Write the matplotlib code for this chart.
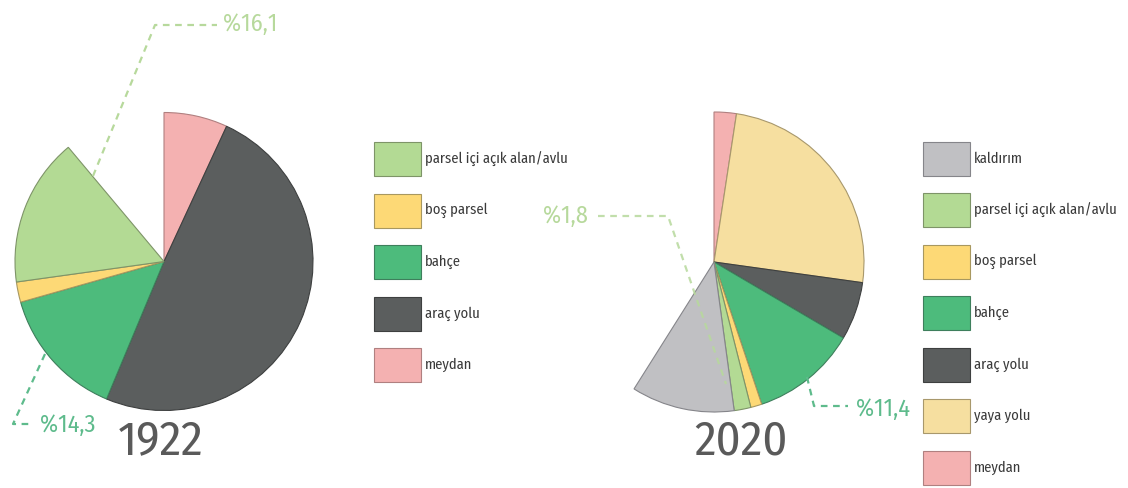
import matplotlib.pyplot as plt
from matplotlib.patches import Rectangle

plt.rcParams['font.family'] = ['Fira Sans Condensed', 'DejaVu Sans']

# data: fractions of the whole, clockwise from the top (rest of the circle left empty)
labels_1922 = ['meydan', 'araç yolu', 'bahçe', 'boş parsel', 'parsel içi açık alan/avlu']
values_1922 = [0.069, 0.494, 0.143, 0.022, 0.161]

labels_2020 = ['meydan', 'yaya yolu', 'araç yolu', 'bahçe', 'boş parsel',
               'parsel içi açık alan/avlu', 'kaldırım']
values_2020 = [0.024, 0.248, 0.0625, 0.114, 0.012, 0.018, 0.111]

colors = {
    'meydan': '#F4B1B1',
    'araç yolu': '#5B5E5E',
    'bahçe': '#4DBB7C',
    'boş parsel': '#FDD976',
    'parsel içi açık alan/avlu': '#B3DA94',
    'kaldırım': '#C0C0C3',
    'yaya yolu': '#F6DFA0',
}
edges = {
    'meydan': '#B08080',
    'araç yolu': '#3E4040',
    'bahçe': '#3E7F5C',
    'boş parsel': '#A89860',
    'parsel içi açık alan/avlu': '#7E9468',
    'kaldırım': '#85858A',
    'yaya yolu': '#A8986C',
}

W, H = 1128, 489
fig = plt.figure(figsize=(W / 100, H / 100), dpi=100)
ax = fig.add_axes([0, 0, 1, 1])


def py(y):
    # pixel row -> data y (data y grows upwards)
    return H - y


def draw_pie(labels, values, cx, cy, r):
    wedges, _ = ax.pie(values, labels=None, startangle=90, counterclock=False,
                       normalize=False, center=(cx, py(cy)), radius=r, frame=True,
                       colors=[colors[l] for l in labels],
                       wedgeprops=dict(linewidth=0.8))
    for w, l in zip(wedges, labels):
        w.set_edgecolor(edges[l])


def draw_legend(labels, x, y0, step):
    for i, l in enumerate(labels):
        yc = y0 + i * step
        ax.add_patch(Rectangle((x, py(yc) - 17), 47, 34, facecolor=colors[l],
                               edgecolor=edges[l], linewidth=0.8))
        ax.text(x + 51, py(yc) + 1, l, fontsize=10.5, color='#3A3A3A',
                ha='left', va='center')


draw_pie(labels_1922, values_1922, 164, 262.5, 149)
draw_pie(labels_2020, values_2020, 714, 263, 150)

# legends listed in reverse drawing order
draw_legend(labels_1922[::-1], 374, 160, 51.5)
draw_legend(labels_2020[::-1], 923, 159.5, 51.5)

# year titles
ax.text(161, py(441), '1922', fontsize=35, color='#5A5A5A', ha='center', va='center')
ax.text(741, py(441), '2020', fontsize=35, color='#5A5A5A', ha='center', va='center')

light = '#B7D99C'
mid = '#5EBB8C'
dash = dict(linestyle=(0, (3, 2.5)), linewidth=1.6)
pct = 17.5

# %16,1 leader
ax.plot([93, 155, 217], [py(177), py(26), py(26)], color=light, **dash)
ax.text(223, py(24), '%16,1', fontsize=pct, color=light, ha='left', va='center')

# %14,3 leader
ax.plot([45, 13, 33], [py(355), py(425), py(425)], color=mid, **dash)
ax.text(40, py(425), '%14,3', fontsize=pct, color=mid, ha='left', va='center')

# %1,8 leader
ax.plot([598, 668, 726], [py(217), py(217), py(385)], color=light, alpha=0.85, **dash)
ax.text(543, py(216), '%1,8', fontsize=pct, color=light, ha='left', va='center')

# %11,4 leader
ax.plot([807, 814, 848], [py(378), py(407), py(407)], color=mid, **dash)
ax.text(856, py(409), '%11,4', fontsize=pct, color=mid, ha='left', va='center')

ax.set_xlim(0, W)
ax.set_ylim(0, H)
ax.set_aspect('auto')
ax.axis('off')

fig.savefig('out.png', dpi=100, facecolor='white')
